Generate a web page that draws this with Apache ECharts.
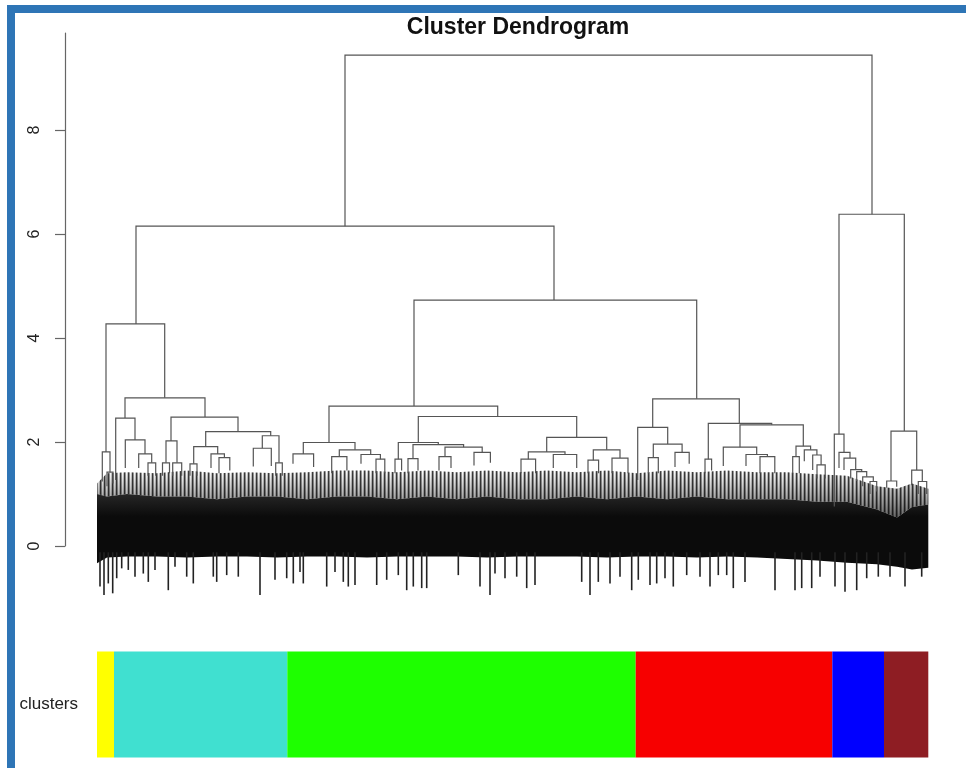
<!DOCTYPE html>
<html>
<head>
<meta charset="utf-8">
<script src="https://cdn.jsdelivr.net/npm/echarts@6/dist/echarts.min.js"></script>
<style>
  html, body { margin: 0; padding: 0; background: #fff; }
  #chart { width: 966px; height: 768px; }
</style>
</head>
<body>
<div id="chart"></div>
<script>
// leaf order runs 0 .. 831.3 along the bottom of the tree
const leafMax = 831.3;
const yTicks = [0, 2, 4, 6, 8];

// merges: [left x, right x, merge height, left child height, right child height]
const rootMerges = [
  [248, 775, 9.44, 6.15, 6.38],
  [39, 457, 6.15, 4.27, 4.73],
  [742, 807.3, 6.38, 2.15, 2.21],
];
const turquoiseMerges = [
  [9, 67.7, 4.27, 1.81, 2.85],
  [5.3, 13, 1.81, 1.24, 1.42],
  [10, 16, 1.42, 1.15, 1.2],
  [28, 108, 2.85, 2.46, 2.48],
  [18.7, 38, 2.46, 1.27, 2.04],
  [28.3, 48, 2.04, 1.5, 1.77],
  [41.7, 54.7, 1.77, 1.5, 1.6],
  [51, 58.7, 1.6, 1.35, 1.35],
  [74, 141, 2.48, 2.02, 2.2],
  [69, 80, 2.02, 1.6, 1.6],
  [65.5, 72.5, 1.6, 1.35, 1.4],
  [75.7, 84.7, 1.6, 1.35, 1.35],
  [108.7, 173.7, 2.2, 1.91, 2.12],
  [96.7, 120.7, 1.91, 1.58, 1.77],
  [93, 100, 1.58, 1.35, 1.35],
  [114, 127.4, 1.77, 1.5, 1.7],
  [122, 132.8, 1.7, 1.4, 1.45],
  [165.3, 182, 2.12, 1.88, 1.6],
  [156.3, 174.3, 1.88, 1.53, 1.54],
  [178.7, 185.3, 1.6, 1.35, 1.35],
];
const greenMerges = [
  [232, 400.7, 2.69, 1.99, 2.49],
  [206.3, 258, 1.99, 1.77, 1.85],
  [196, 216.6, 1.77, 1.58, 1.52],
  [242.3, 273.7, 1.85, 1.72, 1.76],
  [234.7, 249.9, 1.72, 1.4, 1.45],
  [264, 283.4, 1.76, 1.58, 1.67],
  [279, 287.8, 1.67, 1.4, 1.4],
  [321.3, 479.7, 2.49, 1.99, 2.09],
  [301.3, 341.3, 1.99, 1.67, 1.95],
  [298, 304.6, 1.67, 1.4, 1.45],
  [316, 366.6, 1.95, 1.68, 1.9],
  [311, 321, 1.68, 1.4, 1.45],
  [348, 385.2, 1.9, 1.72, 1.8],
  [342, 354, 1.72, 1.45, 1.5],
  [377, 393.4, 1.8, 1.55, 1.6],
  [449.7, 509.7, 2.09, 1.81, 1.85],
  [431.3, 468, 1.81, 1.67, 1.76],
  [424, 438.6, 1.67, 1.4, 1.4],
  [456.3, 479.7, 1.76, 1.5, 1.5],
  [496.3, 523, 1.85, 1.65, 1.69],
  [491, 501.6, 1.65, 1.4, 1.4],
  [515, 531, 1.69, 1.4, 1.4],
];
const redMerges = [
  [317, 599.7, 4.73, 2.69, 2.83],
  [555.7, 642.3, 2.83, 2.28, 2.36],
  [540.7, 570.7, 2.28, 1.27, 1.96],
  [556.3, 585.1, 1.96, 1.7, 1.8],
  [551.3, 561.3, 1.7, 1.4, 1.4],
  [578, 592.2, 1.8, 1.52, 1.58],
  [611.3, 674.7, 2.36, 1.67, 2.33],
  [608, 614.6, 1.67, 1.4, 1.45],
  [643, 706.3, 2.33, 1.9, 1.92],
  [626.3, 659.7, 1.9, 1.54, 1.76],
  [649, 670.4, 1.76, 1.54, 1.72],
  [663, 677.8, 1.72, 1.4, 1.4],
  [699, 713.6, 1.92, 1.72, 1.85],
  [695.7, 702.3, 1.72, 1.4, 1.4],
  [707.3, 719.9, 1.85, 1.63, 1.75],
  [715.7, 724.1, 1.75, 1.46, 1.56],
  [720, 728.2, 1.56, 1.3, 1.3],
];
const blueMerges = [
  [737.3, 747, 2.15, 0.76, 1.8],
  [742, 753, 1.8, 1.5, 1.69],
  [747, 758.7, 1.69, 1.46, 1.47],
  [753.7, 764.7, 1.47, 1.3, 1.43],
  [759.7, 769.7, 1.43, 1.25, 1.33],
  [765.7, 776.3, 1.33, 1.15, 1.24],
  [773, 779.7, 1.24, 1.0, 1.05],
];
const brownMerges = [
  [794, 819.7, 2.21, 1.25, 1.46],
  [789.7, 799.7, 1.25, 1.12, 1.14],
  [814.7, 825.3, 1.46, 1.17, 1.24],
  [821.3, 829.7, 1.24, 1.0, 1.0],
];

// the dense block of low merges and leaves, read as envelopes
const massPos = [0, 10, 30, 60, 90, 120, 150, 180, 210, 240, 270, 300, 330, 360, 390, 420,
  450, 480, 510, 540, 570, 600, 630, 660, 690, 720, 750, 780, 800, 815, 831.3];
const hatchTop = [1.2, 1.4, 1.42, 1.4, 1.45, 1.4, 1.42, 1.4, 1.42, 1.45, 1.45, 1.42, 1.45, 1.42, 1.45, 1.42,
  1.45, 1.42, 1.45, 1.4, 1.45, 1.42, 1.45, 1.42, 1.42, 1.38, 1.35, 1.15, 1.1, 1.2, 1.1];
const solidTop = [1.0, 0.95, 1.0, 0.95, 0.95, 0.9, 0.95, 0.95, 0.9, 0.95, 0.95, 0.9, 0.95, 0.9, 0.95, 0.9,
  0.9, 0.95, 0.9, 0.95, 0.9, 0.95, 0.9, 0.9, 0.9, 0.85, 0.85, 0.7, 0.55, 0.75, 0.8];
const solidBottom = [-0.33, -0.22, -0.2, -0.2, -0.22, -0.2, -0.2, -0.22, -0.2, -0.2, -0.22, -0.2, -0.2, -0.2, -0.22, -0.2,
  -0.2, -0.2, -0.22, -0.2, -0.2, -0.22, -0.2, -0.22, -0.25, -0.28, -0.32, -0.35, -0.4, -0.45, -0.42];

// leaves hanging below the block: [leaf x, lowest height]
const spikes = [
  [3, -0.78], [7, -0.94], [11.3, -0.72], [15.7, -0.91], [19.7, -0.62], [24.7, -0.43], [31.3, -0.46],
  [38, -0.59], [46.3, -0.53], [51.3, -0.69], [58, -0.46], [71.3, -0.85], [78, -0.4], [89.7, -0.59],
  [96.3, -0.72], [116.3, -0.59], [119.7, -0.69], [129.7, -0.56], [141.3, -0.59], [163, -0.94],
  [178, -0.65], [189.7, -0.62], [196.3, -0.72], [203, -0.5], [206.3, -0.72], [229.7, -0.78],
  [238, -0.5], [246.3, -0.69], [251.3, -0.78], [258, -0.75], [279.7, -0.75], [289.7, -0.65],
  [301.3, -0.56], [309.7, -0.85], [316.3, -0.78], [324.7, -0.81], [329.7, -0.81], [361.3, -0.56],
  [383, -0.78], [393, -0.94], [398, -0.53], [408, -0.62], [419.7, -0.59], [429.7, -0.81],
  [438, -0.75], [484.7, -0.69], [493, -0.94], [501.3, -0.69], [513, -0.72], [523, -0.59],
  [534.7, -0.85], [541.3, -0.65], [553, -0.75], [559.7, -0.72], [568, -0.62], [576.3, -0.78],
  [589.7, -0.56], [603, -0.59], [613, -0.78], [621.3, -0.56], [629.7, -0.56], [636.3, -0.81],
  [648, -0.69], [678, -0.85], [698, -0.85], [704.7, -0.81], [714.7, -0.81], [723, -0.59],
  [738, -0.78], [748, -0.88], [759.7, -0.85], [769.7, -0.62], [781.3, -0.59], [793, -0.59],
  [808, -0.78], [824.7, -0.59],
];

// colour strip under the tree: cluster widths in leaf units
const clusterNames = ["1", "2", "3", "4", "5", "6"];
const clusterSizes = [17, 173.3, 348.4, 196.6, 51.7, 44.3];
const clusterColors = ["#ffff00", "#40e0d0", "#1eff00", "#f70000", "#0000ff", "#8e1d23"];

const merges = [...rootMerges, ...turquoiseMerges, ...greenMerges, ...redMerges, ...blueMerges, ...brownMerges];

const font = "Liberation Sans, Arial, Helvetica, sans-serif";
const lineColor = "#555555";

// vertical stripe texture for the half-dense band
const stripes = document.createElement("canvas");
stripes.width = 4;
stripes.height = 1;
const sctx = stripes.getContext("2d");
sctx.fillStyle = "#ffffff"; sctx.fillRect(0, 0, 4, 1);
sctx.fillStyle = "#3c3c3c"; sctx.fillRect(0, 0, 1, 1);
sctx.fillStyle = "#9a9a9a"; sctx.fillRect(1, 0, 1, 1);
sctx.fillStyle = "#c8c8c8"; sctx.fillRect(3, 0, 1, 1);

function renderBranch(params, api) {
  const left = api.coord([api.value(0), api.value(3)]);
  const leftTop = api.coord([api.value(0), api.value(2)]);
  const rightTop = api.coord([api.value(1), api.value(2)]);
  const right = api.coord([api.value(1), api.value(4)]);
  return {
    type: "polyline",
    shape: { points: [left, leftTop, rightTop, right] },
    style: { stroke: lineColor, lineWidth: 1.2, fill: null },
  };
}

function renderMass(params, api) {
  const band = (upper, lower) =>
    upper.map((v, i) => api.coord([massPos[i], v]))
      .concat(lower.map((v, i) => api.coord([massPos[i], v])).reverse());
  return {
    type: "group",
    children: [
      { type: "polygon", shape: { points: band(hatchTop, solidTop) }, style: { fill: { image: stripes, repeat: "repeat" } } },
      {
        type: "polygon",
        shape: { points: band(hatchTop, solidTop) },
        style: {
          fill: new echarts.graphic.LinearGradient(0, 0, 0, 1, [
            { offset: 0, color: "rgba(0,0,0,0)" },
            { offset: 1, color: "rgba(0,0,0,0.6)" },
          ]),
        },
      },
      {
        type: "polygon",
        shape: { points: band(solidTop, solidBottom) },
        style: {
          fill: new echarts.graphic.LinearGradient(0, 0, 0, 1, [
            { offset: 0, color: "#262626" },
            { offset: 0.3, color: "#0b0b0b" },
            { offset: 1, color: "#0b0b0b" },
          ]),
        },
      },
    ],
  };
}

function renderSpike(params, api) {
  const top = api.coord([api.value(0), -0.12]);
  const bottom = api.coord([api.value(0), api.value(1)]);
  return {
    type: "line",
    shape: { x1: top[0], y1: top[1], x2: bottom[0], y2: bottom[1] },
    style: { stroke: "#222222", lineWidth: 1.6 },
  };
}

const chart = echarts.init(document.getElementById("chart"), null, { renderer: "canvas" });

chart.setOption({
  animation: false,
  backgroundColor: "#ffffff",
  title: {
    text: "Cluster Dendrogram",
    left: 513,
    top: 11,
    textAlign: "center",
    textStyle: { fontFamily: font, fontSize: 23, fontWeight: "bold", color: "#111" },
  },
  graphic: [
    { type: "rect", shape: { x: 7, y: 5, width: 8, height: 763 }, style: { fill: "#2e75b6" }, z: 100 },
    { type: "rect", shape: { x: 7, y: 5, width: 959, height: 8 }, style: { fill: "#2e75b6" }, z: 100 },
  ],
  grid: [
    // the y axis sits 32 leaf units left of the first leaf
    { left: 65, right: 37.7, top: 33, bottom: 222 },
    { left: 97, right: 37.7, top: 651.5, height: 106 },
  ],
  xAxis: [
    { type: "value", gridIndex: 0, min: -32, max: leafMax, show: false },
    { type: "value", gridIndex: 1, min: 0, max: leafMax, show: false },
  ],
  yAxis: [
    {
      type: "value",
      gridIndex: 0,
      min: 0,
      max: 9.865,
      splitLine: { show: false },
      axisLine: { show: true, onZero: false, lineStyle: { color: "#666", width: 1.2 } },
      axisTick: { show: true, length: 10, customValues: yTicks, lineStyle: { color: "#666", width: 1.2 } },
      axisLabel: {
        customValues: yTicks,
        rotate: 90,
        margin: 22,
        fontFamily: font,
        fontSize: 16,
        color: "#222",
      },
    },
    {
      type: "category",
      gridIndex: 1,
      data: ["clusters"],
      axisLine: { show: false },
      axisTick: { show: false },
      axisLabel: { margin: 19, fontFamily: font, fontSize: 17, color: "#222" },
    },
  ],
  series: [
    {
      name: "mass",
      type: "custom",
      xAxisIndex: 0,
      yAxisIndex: 0,
      clip: false,
      renderItem: renderMass,
      data: [[0, 0]],
      silent: true,
      z: 1,
    },
    {
      name: "spikes",
      type: "custom",
      xAxisIndex: 0,
      yAxisIndex: 0,
      clip: false,
      renderItem: renderSpike,
      data: spikes,
      silent: true,
      z: 2,
    },
    {
      name: "branches",
      type: "custom",
      xAxisIndex: 0,
      yAxisIndex: 0,
      clip: false,
      renderItem: renderBranch,
      encode: { x: [0, 1], y: [2, 3, 4] },
      data: merges,
      silent: true,
      z: 3,
    },
    ...clusterSizes.map((size, i) => ({
      name: clusterNames[i],
      type: "bar",
      stack: "clusters",
      xAxisIndex: 1,
      yAxisIndex: 1,
      barWidth: "100%",
      data: [size],
      itemStyle: { color: clusterColors[i] },
      silent: true,
    })),
  ],
});
</script>
</body>
</html>
